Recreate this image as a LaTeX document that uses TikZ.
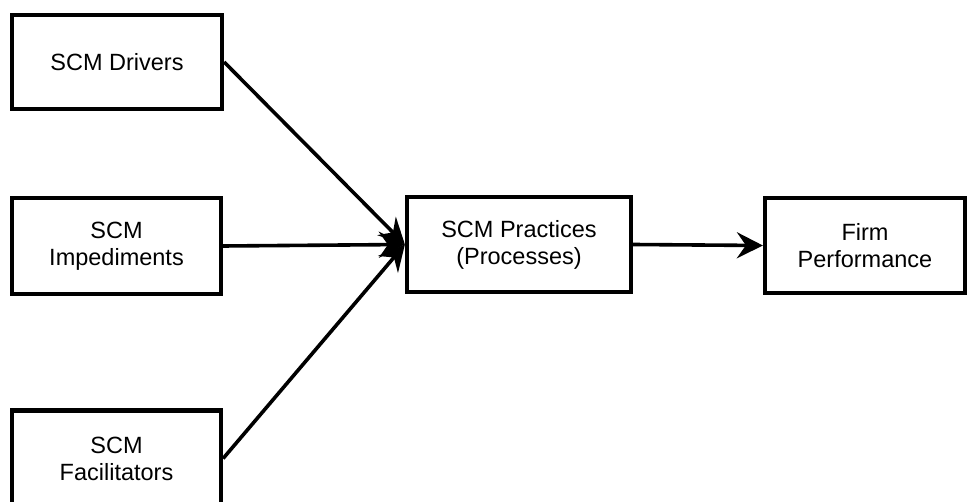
\documentclass[tikz,border=0pt]{standalone}
\usepackage{fontspec}
\setmainfont{Liberation Sans}
\usetikzlibrary{arrows.meta}
\begin{document}
\begin{tikzpicture}[x=1pt,y=1pt,
  blockbox/.style={draw=black, line width=4.2pt, fill=white, align=center,
    inner sep=0pt, font=\fontsize{23.5}{27}\selectfont},
  flow/.style={line width=3.6pt, -{Stealth[length=26pt,width=26pt,inset=9pt]}}]
  \useasboundingbox (0,0) rectangle (967,501);
  \clip (0,0) rectangle (967,501);
  \node[blockbox, minimum width=210pt, minimum height=94pt] (drv) at (117,439) {SCM Drivers};
  \node[blockbox, minimum width=209pt, minimum height=96pt] (imp) at (116.5,255) {SCM\\Impediments};
  \node[blockbox, minimum width=209pt, minimum height=96pt] (fac) at (116.5,42.5) {SCM\\Facilitators};
  \node[blockbox, minimum width=224pt, minimum height=95pt] (prc) at (519,256.5) {SCM Practices\\(Processes)};
  \node[blockbox, minimum width=200pt, minimum height=95pt] (frm) at (865,255.5) {Firm\\Performance};
  \draw[flow] (drv.east) -- (prc.west);
  \draw[flow] (imp.east) -- (prc.west);
  \draw[flow] (fac.east) -- (prc.west);
  \draw[flow] (prc.east) -- (frm.west);
\end{tikzpicture}
\end{document}
